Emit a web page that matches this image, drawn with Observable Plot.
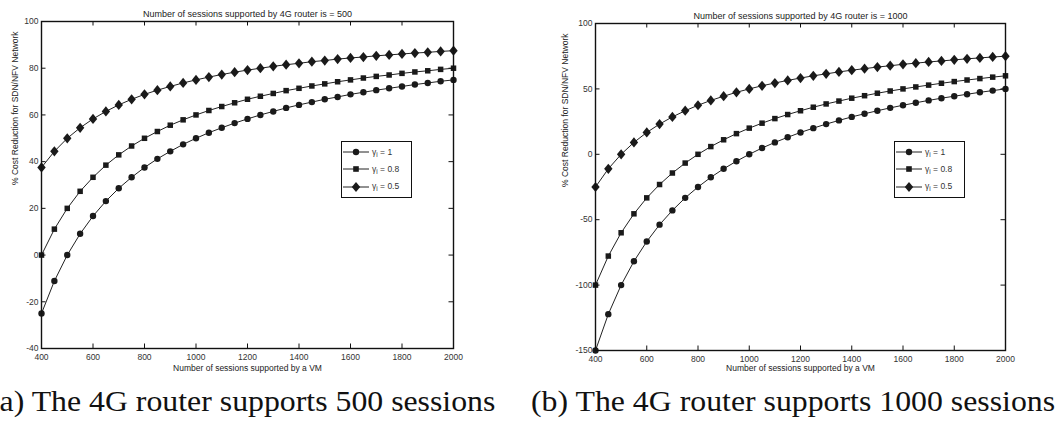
<!DOCTYPE html>
<html><head><meta charset="utf-8">
<script src="https://cdn.jsdelivr.net/npm/d3@7"></script>
<script src="https://cdn.jsdelivr.net/npm/@observablehq/plot@0.6"></script>
<style>
body{margin:0;background:#fff;}
#wrap{position:relative;width:1060px;height:422px;overflow:hidden;font-family:"Liberation Sans",Arial,sans-serif;}
.panel{position:absolute;top:0;}
.cap{position:absolute;top:386px;font-family:"Liberation Serif",serif;font-size:30px;color:#111;white-space:nowrap;line-height:1;transform:scaleX(1.06);transform-origin:left top;}
.legend{position:absolute;border:1.3px solid #111;background:#fff;font-size:8.5px;color:#333;box-sizing:border-box;}
.legend .row{position:absolute;left:0;height:12px;display:flex;align-items:center;}
.legend svg{display:block;}
.legend span{margin-left:2px;white-space:nowrap;}
.legend sub{font-size:6.5px;vertical-align:-2px;}
</style></head>
<body><div id="wrap"></div>
<script>
// ---- data ----
const vmSessions = [400,450,500,550,600,650,700,750,800,850,900,950,1000,1050,1100,1150,1200,1250,1300,1350,1400,1450,1500,1550,1600,1650,1700,1750,1800,1850,1900,1950,2000];
const gammaLabels = ["1", "0.8", "0.5"];
const xTicks = [400,600,800,1000,1200,1400,1600,1800,2000];
const yTicksA = [-40,-20,0,20,40,60,80,100];
const yTicksB = [-150,-100,-50,0,50,100];
// Panel (a): 4G router = 500 sessions
const a_g1  = [-25,-11.1,0,9.1,16.7,23.1,28.6,33.3,37.5,41.2,44.4,47.4,50,52.4,54.5,56.5,58.3,60,61.5,63,64.3,65.5,66.7,67.7,68.8,69.7,70.6,71.4,72.2,73,73.7,74.4,75];
const a_g08 = [0,11.1,20,27.3,33.3,38.5,42.9,46.7,50,52.9,55.6,57.9,60,61.9,63.6,65.2,66.7,68,69.2,70.4,71.4,72.4,73.3,74.2,75,75.8,76.5,77.1,77.8,78.4,78.9,79.5,80];
const a_g05 = [37.5,44.4,50,54.5,58.3,61.5,64.3,66.7,68.8,70.6,72.2,73.7,75,76.2,77.3,78.3,79.2,80,80.8,81.5,82.1,82.8,83.3,83.9,84.4,84.8,85.3,85.7,86.1,86.5,86.8,87.2,87.5];
// Panel (b): 4G router = 1000 sessions
const b_g1  = [-150,-122.2,-100,-81.8,-66.7,-53.8,-42.9,-33.3,-25,-17.6,-11.1,-5.3,0,4.8,9.1,13,16.7,20,23.1,25.9,28.6,31,33.3,35.5,37.5,39.4,41.2,42.9,44.4,45.9,47.4,48.7,50];
const b_g08 = [-100,-77.8,-60,-45.5,-33.3,-23.1,-14.3,-6.7,0,5.9,11.1,15.8,20,23.8,27.3,30.4,33.3,36,38.5,40.7,42.9,44.8,46.7,48.4,50,51.5,52.9,54.3,55.6,56.8,57.9,59,60];
const b_g05 = [-25,-11.1,0,9.1,16.7,23.1,28.6,33.3,37.5,41.2,44.4,47.4,50,52.4,54.5,56.5,58.3,60,61.5,63,64.3,65.5,66.7,67.7,68.8,69.7,70.6,71.4,72.2,73,73.7,74.4,75];
const titleA = "Number of sessions supported by 4G router is = 500";
const titleB = "Number of sessions supported by 4G router is = 1000";
const xLabel = "Number of sessions supported by a VM";
const yLabel = "% Cost Reduction for SDN/NFV Network";
const captionA = "(a) The 4G router supports 500 sessions";
const captionB = "(b) The 4G router supports 1000 sessions";

// ---- styles ----
const ink = "#1a1a1a";
const diamond = {draw(ctx, size){const r=Math.sqrt(size/Math.PI); ctx.moveTo(0,-r*1.22); ctx.lineTo(r,0); ctx.lineTo(0,r*1.22); ctx.lineTo(-r,0); ctx.closePath();}};
const markers = [{symbol:"circle", r:3.2},{symbol:"square", r:3.1},{symbol:diamond, r:4.2}];

function panel(seriesArr, yDomain, yTicks, title, m, yLabelDx) {
  const W = 530, H = 370;
  const pw = W - m.left - m.right, ph = H - m.top - m.bottom;
  const marks = [];
  seriesArr.forEach((vals, k) => {
    const d = vals.map((v,i) => ({x: vmSessions[i], y: v}));
    marks.push(Plot.line(d, {x:"x", y:"y", stroke:"#222", strokeWidth:1}));
    marks.push(Plot.dot(d, {x:"x", y:"y", symbol: markers[k].symbol, r: markers[k].r, fill: ink, stroke: "none"}));
  });
  const tl = 4.5;
  marks.push(
    Plot.ruleX(xTicks, {x:d=>d, insetTop: ph - tl, stroke:"#111"}),
    Plot.ruleX(xTicks, {x:d=>d, insetBottom: ph - tl, stroke:"#111"}),
    Plot.ruleY(yTicks, {y:d=>d, insetRight: pw - tl, stroke:"#111"}),
    Plot.ruleY(yTicks, {y:d=>d, insetLeft: pw - tl, stroke:"#111"}),
    Plot.frame({stroke:"#111", strokeWidth:1.4}),
    Plot.axisX(xTicks, {tickSize:0, tickPadding:5, fontSize:8.5, fill:"#333", tickFormat:d=>String(d), label:null}),
    Plot.axisY(yTicks, {tickSize:0, tickPadding:3, fontSize:8.5, fill:"#333", tickFormat:d=>String(d), label:null}),
    Plot.text([title], {text:d=>d, frameAnchor:"top", dy:-11, fontSize:9, fill:"#222"}),
    Plot.text([xLabel], {text:d=>d, frameAnchor:"bottom", dy: m.bottom, fontSize:8.5, fill:"#222"}),
    Plot.text([yLabel], {text:d=>d, frameAnchor:"left", dx: yLabelDx, rotate:-90, fontSize:8.5, fill:"#222"})
  );
  return Plot.plot({
    width: W, height: H,
    marginLeft: m.left, marginRight: m.right, marginTop: m.top, marginBottom: m.bottom,
    style: {fontFamily: '"Liberation Sans", Arial, sans-serif', background: "transparent", overflow: "visible"},
    x: {domain:[400,2000]},
    y: {domain: yDomain},
    marks
  });
}

function legend(left, top) {
  const div = document.createElement("div");
  div.className = "legend";
  div.style.left = left + "px"; div.style.top = top + "px";
  div.style.width = "71px"; div.style.height = "57px";
  const shapes = [
    '<circle cx="14" cy="6" r="3.2" fill="'+ink+'"/>',
    '<rect x="11.2" y="3.2" width="5.6" height="5.6" fill="'+ink+'"/>',
    '<path d="M14,0.9 L18.2,6 L14,11.1 L9.8,6 Z" fill="'+ink+'"/>'
  ];
  gammaLabels.forEach((g, k) => {
    const row = document.createElement("div");
    row.className = "row";
    row.style.top = (4 + k*17.3) + "px";
    row.innerHTML = '<svg width="28" height="12"><line x1="1" y1="6" x2="27" y2="6" stroke="#222" stroke-width="1"/>' + shapes[k] + '</svg><span>γ<sub>i</sub> = ' + g + '</span>';
    div.appendChild(row);
  });
  return div;
}

const wrap = document.getElementById("wrap");
const pA = panel([a_g1, a_g08, a_g05], [-40,100], yTicksA, titleA, {left:41, right:77, top:21, bottom:22}, -26);
pA.classList.add("panel"); pA.style.left = "0px";
const pB = panel([b_g1, b_g08, b_g05], [-150,100], yTicksB, titleB, {left:65, right:55, top:23, bottom:20}, -30);
pB.classList.add("panel"); pB.style.left = "530px";
wrap.appendChild(pA); wrap.appendChild(pB);
wrap.appendChild(legend(341, 141));
wrap.appendChild(legend(894, 141));
const cA = document.createElement("div"); cA.className = "cap"; cA.textContent = captionA; cA.style.left = "-11px";
const cB = document.createElement("div"); cB.className = "cap"; cB.textContent = captionB; cB.style.left = "531px";
wrap.appendChild(cA); wrap.appendChild(cB);
</script>
</body></html>
